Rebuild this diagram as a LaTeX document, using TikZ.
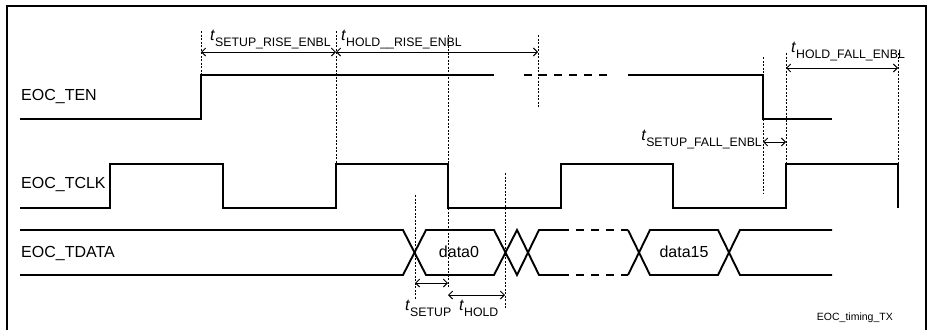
\documentclass[tikz,border=0pt]{standalone}
\usepackage{fontspec}
\setmainfont{Liberation Sans}
\usetikzlibrary{arrows.meta}
\newcommand\tlab[1]{\fontsize{16}{16}\selectfont\textit{t}\raisebox{-6.5pt}{\fontsize{12.3}{13}\selectfont #1}}
\tikzset{
  sig/.style={line width=1.9pt, line join=miter},
  sigdash/.style={line width=1.9pt, dash pattern=on 8pt off 7pt},
  guide/.style={line width=0.7pt, dash pattern=on 2pt off 1.5pt},
  dim/.style={line width=0.9pt, {Straight Barb[length=4pt,width=8pt]}-{Straight Barb[length=4pt,width=8pt]}},
  lab/.style={font=\fontsize{16}{16}\selectfont, inner sep=0pt, anchor=base west},
  tl/.style={inner sep=0pt, anchor=base west}
}
\begin{document}
\begin{tikzpicture}[x=1pt,y=-1pt]
\useasboundingbox (0,0) rectangle (930,330);
% frame
\draw[line width=2pt] (7,330) -- (7,6) -- (926,6) -- (926,330);

% signal labels
\node[lab] (lten) at (21,100) {EOC\_TEN};
\node[lab] (lclk) at (21,188) {EOC\_TCLK};
\node[lab] (ldat) at (21,257) {EOC\_TDATA};

% EOC_TEN
\draw[sig] (20,119) -- (201,119) -- (201,75) -- (494,75);
\draw[sigdash] (524,75) -- (612,75);
\draw[sig] (628,75) -- (763,75) -- (763,119) -- (832,119);

% EOC_TCLK
\draw[sig] (20,208) -- (110,208) -- (110,164) -- (223,164) -- (223,208)
  -- (336,208) -- (336,164) -- (448,164) -- (448,208) -- (561,208)
  -- (561,164) -- (673,164) -- (673,208) -- (786,208) -- (786,164)
  -- (898,164) -- (898,208);

% EOC_TDATA
\draw[sig] (20,230) -- (403,230) -- (426,275) -- (494,275) -- (517,230) -- (539,275) -- (561,275);
\draw[sig] (20,275) -- (403,275) -- (426,230) -- (494,230) -- (517,275) -- (539,230) -- (561,230);
\draw[sigdash] (561,230) -- (628,230);
\draw[sigdash] (561,275) -- (628,275);
\draw[sig] (628,230) -- (650,275) -- (718,275) -- (740,230) -- (832,230);
\draw[sig] (628,275) -- (650,230) -- (718,230) -- (740,275) -- (832,275);
\node[font=\fontsize{16}{16}\selectfont, inner sep=0pt] (d0) at (459,252) {data0};
\node[font=\fontsize{16}{16}\selectfont, inner sep=0pt] (d15) at (684,252) {data15};

% guide lines
\draw[guide] (201,31) -- (201,75);
\draw[guide] (336,31) -- (336,164);
\draw[guide] (448,35) -- (448,164);
\draw[guide] (448,208) -- (448,287);
\draw[guide] (538,35) -- (538,108);
\draw[guide] (763,57) -- (763,75);
\draw[guide] (763,119) -- (763,193);
\draw[guide] (786,53) -- (786,164);
\draw[guide] (898,53) -- (898,164);
\draw[guide] (415,195) -- (415,300);
\draw[guide] (505,173) -- (505,308);

% dimension end points
\coordinate (a1) at (201,52); \coordinate (a2) at (336,52); \coordinate (a3) at (538,52);
\coordinate (b1) at (786,68); \coordinate (b2) at (898,68);
\coordinate (c1) at (763,142); \coordinate (c2) at (786,142);
\coordinate (e1) at (415,283); \coordinate (e2) at (448,283);
\coordinate (f1) at (448,295); \coordinate (f2) at (505,295);

\draw[dim] (a1) -- (a2);
\draw[dim] (a2) -- (a3);
\draw[dim] (b1) -- (b2);
\draw[dim] (c1) -- (c2);
\draw[dim] (e1) -- (e2);
\draw[dim] (f1) -- (f2);

% timing labels
\node[tl] (t1) at (210,40) {\tlab{SETUP\_RISE\_ENBL}};
\node[tl] (t2) at (341,40) {\tlab{HOLD\_\_RISE\_ENBL}};
\node[tl] (t3) at (791,52) {\tlab{HOLD\_FALL\_ENBL}};
\node[tl, anchor=base east] (t4) at (762,140) {\tlab{SETUP\_FALL\_ENBL}};
\node[tl] (t5) at (405,310) {\tlab{SETUP}};
\node[tl] (t6) at (459,310) {\tlab{HOLD}};

\node[inner sep=0pt, anchor=base east, font=\fontsize{10.5}{11}\selectfont] (cap) at (893,320) {EOC\_timing\_TX};
\end{tikzpicture}
\end{document}
